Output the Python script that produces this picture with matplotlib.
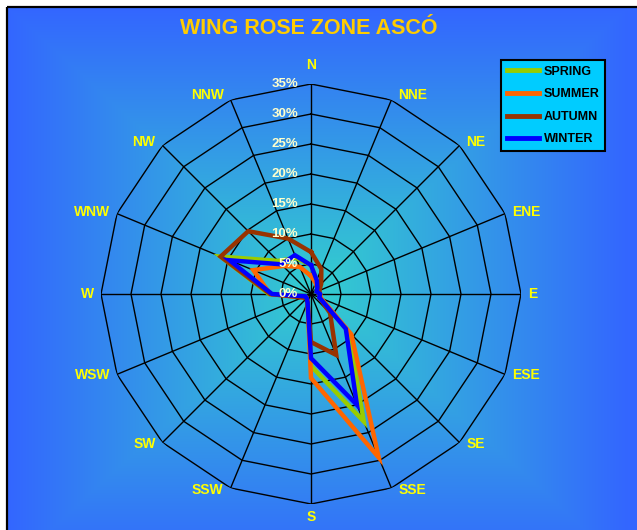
import numpy as np
import matplotlib
matplotlib.use("Agg")
import matplotlib.pyplot as plt
from matplotlib.patches import Rectangle

plt.rcParams['font.family'] = ['Liberation Sans', 'DejaVu Sans']

# ---- data ---------------------------------------------------------------
directions = ["N", "NNE", "NE", "ENE", "E", "ESE", "SE", "SSE",
              "S", "SSW", "SW", "WSW", "W", "WNW", "NW", "NNW"]
spring = [4.8, 2.5, 1.5, 1.0, 1.5, 1.5, 8.8, 23.0, 12.0, 1.5, 1.0, 1.0, 7.0, 16.3, 7.8, 6.5]
summer = [3.0, 2.0, 1.5, 1.2, 1.5, 1.8, 9.5, 29.5, 14.0, 1.5, 1.0, 1.5, 6.8, 10.4, 6.6, 4.9]
autumn = [7.0, 4.5, 2.4, 1.5, 1.5, 1.5, 4.5, 11.0, 8.0, 1.5, 1.0, 1.5, 6.8, 16.3, 14.8, 10.0]
winter = [4.8, 2.5, 1.5, 1.0, 1.5, 1.5, 8.2, 20.0, 10.7, 1.5, 1.0, 1.0, 6.5, 14.7, 7.0, 7.0]
series_names = ["SPRING", "SUMMER", "AUTUMN", "WINTER"]
series_colors = ["#99CC00", "#FF6600", "#993300", "#0000FF"]
rings = [5, 10, 15, 20, 25, 30, 35]
ring_labels = ["0%", "5%", "10%", "15%", "20%", "25%", "30%", "35%"]

W, H, DPI = 637, 530, 100
fig = plt.figure(figsize=(W / DPI, H / DPI), dpi=DPI)
fig.patch.set_facecolor("white")

# ---- chart-area background: rectangular "from centre" gradient ----------
bg = fig.add_axes([0, 0, 1, 1], zorder=-10)
bg.set_xlim(0, W)
bg.set_ylim(H, 0)
bg.axis("off")
x0, y0 = 8, 8
cx, cy = 318, 288
xs = np.arange(x0, W) + 0.5
ys = np.arange(y0, H) + 0.5
X, Y = np.meshgrid(xs, ys)
t = np.maximum(np.abs(X - cx) / (cx - x0), np.abs(Y - cy) / (cy - y0))
t = np.clip(t, 0, 1)
c_mid = np.array([51, 206, 206]) / 255
c_edge = np.array([51, 102, 255]) / 255
img = c_mid[None, None, :] * (1 - t[..., None]) + c_edge[None, None, :] * t[..., None]
bg.imshow(img, extent=(x0, W, H, y0), interpolation="bilinear", aspect="auto")
bg.add_patch(Rectangle((x0 - 1, y0 - 1), W + 20, H + 20, fill=False,
                       edgecolor="black", linewidth=1.6))

# ---- title ---------------------------------------------------------------
fig.text(309 / W, 1 - 28 / H, "WING ROSE ZONE ASCÓ", ha="center", va="center",
         color="#FFCC00", fontsize=15.5, fontweight="bold")

# ---- radar axes --------------------------------------------------------
R_PX = 210
ccx, ccy = 311, 294
ax = fig.add_axes([(ccx - R_PX) / W, (H - ccy - R_PX) / H, 2 * R_PX / W, 2 * R_PX / H],
                  projection="polar")
ax.set_theta_zero_location("N")
ax.set_theta_direction(-1)
ax.set_ylim(0, 35)
ax.patch.set_alpha(0)
ax.grid(False)
ax.spines["polar"].set_visible(False)
ax.set_xticks([])
ax.set_yticks([])

n = len(directions)
theta = np.arange(n) * 2 * np.pi / n
theta_c = np.append(theta, theta[0])

# polygonal web
for r in rings:
    ax.plot(theta_c, [r] * (n + 1), color="black", lw=1.0, zorder=1)
for th in theta:
    ax.plot([th, th], [0, rings[-1]], color="black", lw=1.0, zorder=1)

# percentage labels along the north spoke
for val, lab in zip([0] + rings, ring_labels):
    ax.annotate(lab, xy=(0, val), xytext=(-13, 0), textcoords="offset pixels",
                ha="right", va="center", color="#FFFFCC", fontsize=9.5,
                fontweight="bold", zorder=5)

# direction labels just outside the outer ring
for th, name in zip(theta, directions):
    ux, uy = np.sin(th), np.cos(th)
    if abs(ux) < 1e-6:
        ha = "center"
        off = (0, 19 if uy > 0 else -13)
    else:
        ha = "left" if ux > 0 else "right"
        dy = 5 * uy if uy > 0 else -1.5 * abs(uy) if abs(uy) < 0.9 else -2
        off = (7 if ux > 0 else -7, dy)
    ax.annotate(name, xy=(th, rings[-1]), xytext=off,
                textcoords="offset pixels", ha=ha, va="center",
                color="#FFFF00", fontsize=10, fontweight="bold",
                annotation_clip=False)

# seasonal series
for name, vals, col in zip(series_names, [spring, summer, autumn, winter], series_colors):
    v = np.append(vals, vals[0])
    ax.plot(theta_c, v, color=col, lw=3.2, label=name, zorder=3,
            solid_joinstyle="miter")

leg = ax.legend(loc="upper left", bbox_to_anchor=(501 / W, 1 - 60 / H),
                bbox_transform=fig.transFigure, borderaxespad=0, frameon=True,
                fancybox=False, facecolor="#00CCFF", edgecolor="black",
                framealpha=1, prop={"weight": "bold", "size": 9},
                handlelength=2.6, handletextpad=0.35, labelspacing=0.85,
                borderpad=0.45)
leg.get_frame().set_linewidth(1.5)
for line in leg.get_lines():
    line.set_linewidth(3.5)
for txt in leg.get_texts():
    txt.set_color("black")

fig.savefig("out.png", dpi=DPI)
